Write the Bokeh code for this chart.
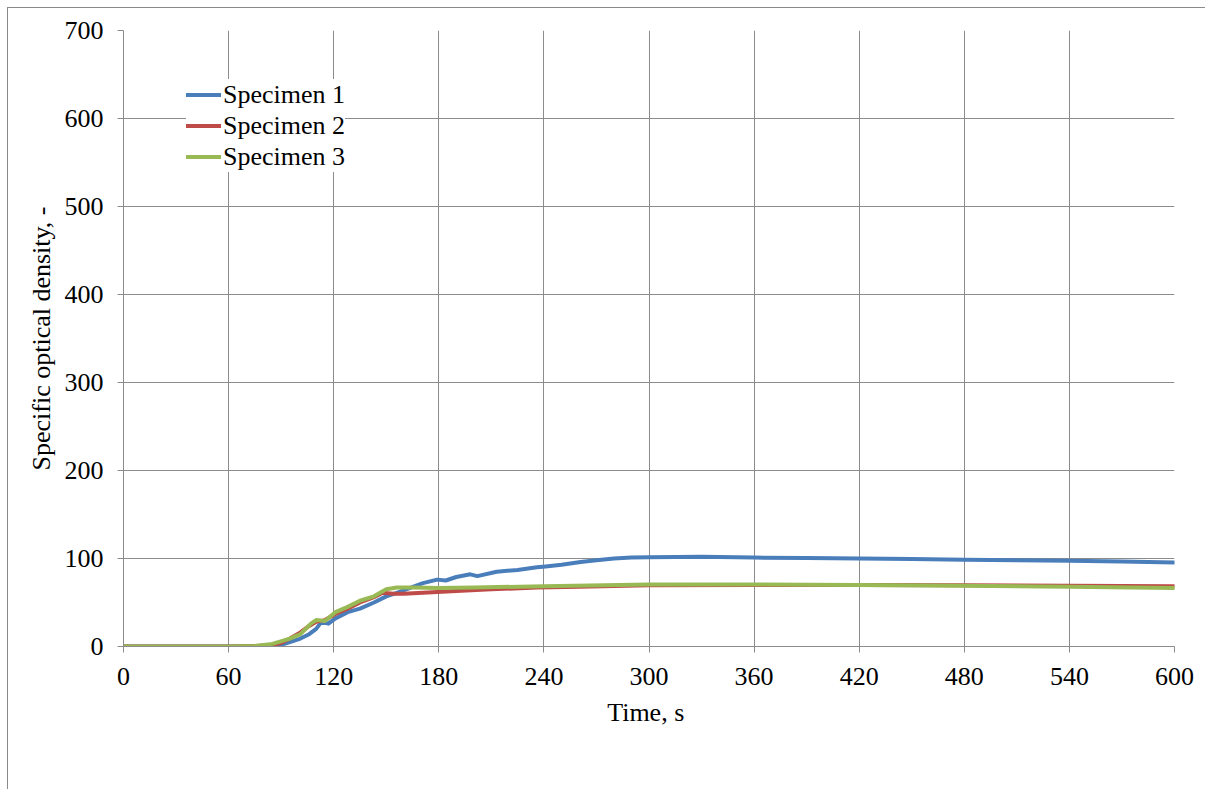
from bokeh.plotting import figure
from bokeh.models import FixedTicker, Legend, LegendItem
from bokeh.embed import file_html
from bokeh.resources import INLINE

# ---- data ----
t1 = [0, 60, 85, 90, 95, 101, 106, 110, 113, 117, 121, 128, 135, 143, 150, 156, 164, 171,
      179, 184, 190, 198, 202, 213, 225, 236, 241, 250, 261, 270, 280, 290, 300, 330, 360,
      390, 420, 450, 480, 510, 540, 570, 600]
v1 = [0, 0, 0, 2, 5, 9, 14, 20, 28, 26, 32, 39, 43, 50, 57, 61, 67, 72,
      76, 75, 79, 82, 80, 85, 87, 90, 91, 93, 96, 98, 100, 101, 101.5, 102, 101,
      100.5, 100, 99.5, 98.5, 98, 97.5, 96.5, 95.5]

t2 = [0, 60, 75, 82, 90, 95, 101, 105, 110, 115, 121, 128, 135, 143, 148, 154, 160, 171,
      190, 210, 236, 260, 300, 360, 420, 480, 540, 600]
v2 = [0, 0, 0.5, 1, 4, 9, 16, 22, 28, 30, 37, 43, 50, 56, 61, 60, 60, 61,
      63, 65, 67, 68, 69.5, 70, 70, 69.5, 69, 68.5]

t3 = [0, 60, 75, 85, 95, 101, 107, 110, 115, 121, 128, 135, 143, 150, 156, 165, 180, 200,
      240, 300, 360, 420, 480, 540, 600]
v3 = [0, 0, 0.5, 3, 9, 14, 26, 30, 29, 39, 45, 52, 57, 65, 67, 67, 66.5, 67,
      68.5, 70.5, 70.5, 70, 69, 68, 66.5]

series_names = ["Specimen 1", "Specimen 2", "Specimen 3"]
series_colors = ["#4A7EBB", "#BE4B48", "#98B954"]

x_ticks = [0, 60, 120, 180, 240, 300, 360, 420, 480, 540, 600]
y_ticks = [0, 100, 200, 300, 400, 500, 600, 700]

FONT = "'Liberation Serif', 'Times New Roman', serif"
GRID = "#8C8C8C"

p = figure(width=1205, height=789, x_range=(0, 600), y_range=(0, 700),
           output_backend="svg", toolbar_location=None,
           min_border_left=123, min_border_right=31, min_border_top=30, min_border_bottom=143)
# outer chart frame (top and left edges), drawn as layered inset shadows
p.styles = {"box-shadow": "inset 7px 7px 0 0 white, inset 8px 8px 0 0 #8a8a8a"}

p.outline_line_color = None
p.background_fill_color = "white"
p.border_fill_alpha = 0.0

for ax in (p.xaxis[0], p.yaxis[0]):
    ax.axis_line_color = GRID
    ax.axis_line_width = 1
    ax.major_tick_line_color = GRID
    ax.major_tick_out = 6
    ax.major_tick_in = 0
    ax.minor_tick_line_color = None
    ax.major_label_text_font = FONT
    ax.major_label_text_font_size = "26px"
    ax.major_label_text_color = "black"
    ax.axis_label_text_font = FONT
    ax.axis_label_text_font_size = "26px"
    ax.axis_label_text_font_style = "normal"
    ax.axis_label_text_color = "black"

p.xaxis[0].ticker = FixedTicker(ticks=x_ticks)
p.yaxis[0].ticker = FixedTicker(ticks=y_ticks)
p.xaxis[0].axis_label = "Time,  s"
p.yaxis[0].axis_label = "Specific optical density, -"
p.xaxis[0].major_label_standoff = 15
p.xaxis[0].axis_label_standoff = 10
p.yaxis[0].major_label_standoff = 14
p.yaxis[0].axis_label_standoff = 6

p.xgrid.ticker = FixedTicker(ticks=x_ticks)
p.ygrid.ticker = FixedTicker(ticks=y_ticks)
p.xgrid.grid_line_color = GRID
p.ygrid.grid_line_color = GRID
p.xgrid.grid_line_width = 1
p.ygrid.grid_line_width = 1

items = []
for name, color, tx, vy in zip(series_names, series_colors, [t1, t2, t3], [v1, v2, v3]):
    r = p.line(tx, vy, line_color=color, line_width=4, line_join="round", line_cap="round")
    items.append(LegendItem(label=name, renderers=[r]))

legend = Legend(items=items, location=(63, 474))
legend.label_text_font = FONT
legend.label_text_font_size = "26px"
legend.label_text_color = "black"
legend.glyph_width = 35
legend.glyph_height = 31
legend.label_height = 31
legend.label_standoff = 2
legend.spacing = 0
legend.padding = 5
legend.margin = 0
legend.border_line_color = None
legend.background_fill_color = "white"
legend.background_fill_alpha = 1.0
p.add_layout(legend, "center")

open("out.html", "w").write(file_html(p, INLINE))
